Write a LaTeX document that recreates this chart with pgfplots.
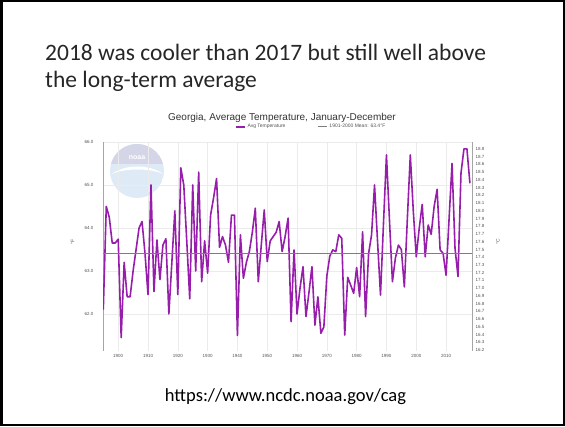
\documentclass[border=0pt]{standalone}
\usepackage{pgfplots}
\pgfplotsset{compat=1.18}
\usepackage{pgfplotstable}
\usepackage{fontspec}
\setmainfont{Carlito}
\newfontfamily\arial{Liberation Sans}

\definecolor{avgpurple}{RGB}{150,30,170}
\definecolor{meangray}{RGB}{125,125,125}
\definecolor{axgray}{RGB}{165,165,165}
\definecolor{gridgray}{RGB}{235,235,235}
\definecolor{labgray}{RGB}{85,85,85}
\definecolor{logoblue}{RGB}{222,234,246}
\definecolor{logolav}{RGB}{212,214,232}

% Georgia annual average temperature, deg F
\pgfplotstableread{
year temp
1895 62.10
1896 64.50
1897 64.25
1898 63.65
1899 63.65
1900 63.74
1901 61.45
1902 63.20
1903 62.40
1904 62.40
1905 63.00
1906 63.50
1907 64.00
1908 64.15
1909 63.40
1910 62.45
1911 65.00
1912 62.52
1913 63.72
1914 62.80
1915 63.60
1916 63.75
1917 62.00
1918 63.20
1919 64.40
1920 62.45
1921 65.40
1922 65.00
1923 63.70
1924 62.35
1925 65.00
1926 63.00
1927 65.30
1928 62.75
1929 63.70
1930 62.95
1931 64.30
1932 64.70
1933 65.15
1934 63.55
1935 63.80
1936 63.60
1937 63.20
1938 64.30
1939 64.30
1940 61.50
1941 63.84
1942 62.83
1943 63.20
1944 63.45
1945 63.90
1946 64.46
1947 62.75
1948 63.60
1949 64.42
1950 63.22
1951 63.70
1952 63.80
1953 63.90
1954 64.15
1955 63.45
1956 63.80
1957 64.23
1958 61.82
1959 63.49
1960 62.00
1961 62.60
1962 63.10
1963 61.94
1964 62.50
1965 63.10
1966 61.74
1967 62.40
1968 61.55
1969 61.70
1970 62.88
1971 63.35
1972 63.49
1973 63.45
1974 63.84
1975 63.76
1976 61.51
1977 62.85
1978 62.67
1979 62.48
1980 63.08
1981 62.40
1982 63.91
1983 61.94
1984 63.40
1985 63.84
1986 65.00
1987 63.70
1988 62.44
1989 64.10
1990 65.70
1991 64.20
1992 62.75
1993 63.30
1994 63.60
1995 63.50
1996 62.63
1997 64.20
1998 65.70
1999 64.40
2000 63.33
2001 64.00
2002 64.55
2003 63.33
2004 64.07
2005 63.85
2006 64.50
2007 64.90
2008 63.49
2009 63.41
2010 62.90
2011 64.20
2012 65.50
2013 63.53
2014 62.87
2015 65.27
2016 65.84
2017 65.84
2018 65.04
}\gatemp

\begin{document}
\begin{tikzpicture}[x=1pt,y=1pt]
\path[use as bounding box] (0,0) rectangle (565,426);
\draw[line width=2.5pt] (1.25,1.25) rectangle (563.75,424.75);

% slide title
\node[anchor=base west, inner sep=0, font=\fontsize{23.5}{26.5}\selectfont, text=black!85] at (45,365) {2018 was cooler than 2017 but still well above};
\node[anchor=base west, inner sep=0, font=\fontsize{23.5}{26.5}\selectfont, text=black!85] at (45,338.5) {the long-term average};

% chart title
\node[font=\arial\fontsize{10}{12}\selectfont, text=black!80] at (282,308) {Georgia, Average Temperature, January-December};

% faded logo watermark
\begin{scope}
\clip (137,255) circle (27);
\fill[logoblue] (137,255) circle (27);
\fill[logolav] (105,262) rectangle (170,285);
\fill[white] (112,252) .. controls (125,262) and (150,262) .. (163,252) .. controls (150,258) and (125,258) .. (112,252);
\end{scope}
\node[font=\arial\bfseries\fontsize{7}{8}\selectfont, text=white] at (137,268) {noaa};

\begin{axis}[
  width=369pt, height=208.5pt, scale only axis,
  at={(103pt,75.5pt)}, anchor=south west,
  xmin=1894.9, xmax=2018.7,
  ymin=61.15, ymax=66.0,
  axis x line*=bottom, x axis line style={draw=none},
  axis y line*=left, y axis line style={axgray, line width=0.8pt},
  xtick={1900,1910,...,2010},
  ytick={62,63,64,65,66},
  xticklabel style={/pgf/number format/1000 sep={}},
  yticklabel style={/pgf/number format/fixed, /pgf/number format/fixed zerofill, /pgf/number format/precision=1, xshift=-6pt},
  /pgf/number format/assume math mode=true,
  tick label style={font=\arial\fontsize{4.5}{5}\selectfont, text=labgray},
  major tick length=0pt,
  grid=major, major grid style={gridgray, line width=0.5pt},
  ylabel={°F},
  every axis y label/.style={at={(axis description cs:-0.082,0.52)}, rotate=90, font=\arial\fontsize{5}{6}\selectfont, text=labgray},
  legend columns=2,
  legend style={at={(axis description cs:0.564,1.072)}, anchor=center, draw=none, fill=none,
    font=\arial\fontsize{5}{6}\selectfont, text=labgray,
    /tikz/every even column/.append style={column sep=30pt}},
  legend image code/.code={\draw[#1] (0pt,0pt) -- (9pt,0pt);},
]
\addplot[avgpurple, line width=1.6pt, line join=round] table[x=year, y=temp] {\gatemp};
\addlegendentry{Avg Temperature}
\addplot[meangray, line width=1pt] coordinates {(1894.9,63.4) (2018.7,63.4)};
\addlegendentry{1901-2000 Mean: 63.4°F}
\end{axis}

\begin{axis}[
  width=369pt, height=208.5pt, scale only axis,
  at={(103pt,75.5pt)}, anchor=south west,
  xmin=1894.9, xmax=2018.7,
  ymin=16.1944, ymax=18.8889,
  axis x line=none,
  axis y line*=right, y axis line style={axgray, line width=0.8pt},
  ytick={16.2,16.3,...,18.8},
  yticklabel style={/pgf/number format/fixed, /pgf/number format/fixed zerofill, /pgf/number format/precision=1},
  /pgf/number format/assume math mode=true,
  tick label style={font=\arial\fontsize{4.5}{5}\selectfont, text=labgray},
  major tick length=0pt,
  ylabel={°C},
  every axis y label/.style={at={(axis description cs:1.07,0.52)}, rotate=90, font=\arial\fontsize{5}{6}\selectfont, text=labgray},
]
\addplot[draw=none] coordinates {(1900,17)};
\end{axis}
\node[anchor=base, inner sep=0, font=\fontsize{18.5}{20}\selectfont] at (285.5,25) {https://www.ncdc.noaa.gov/cag};
\end{tikzpicture}
\end{document}
